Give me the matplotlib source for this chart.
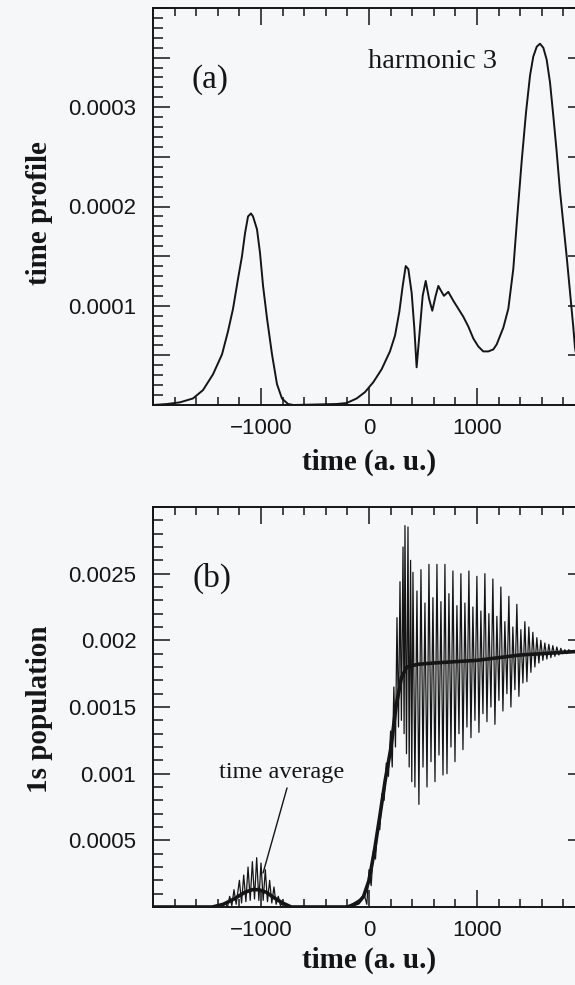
import matplotlib
matplotlib.use("Agg")
import matplotlib.pyplot as plt
from matplotlib.ticker import MultipleLocator, FuncFormatter

# panel (a): harmonic 3 time profile
prof_t = [-2000, -1870, -1750, -1630, -1537, -1444, -1361, -1306, -1259, -1213, -1176, -1148,
          -1120, -1093, -1074, -1037, -1009, -981, -944, -898, -852, -806, -750, -700,
          -299, -207, -114, -37, 40, 117, 194, 241, 281, 312, 340, 364, 395, 420, 441, 466,
          497, 525, 556, 586, 617, 642, 667, 694, 734, 781, 827, 873, 920, 966, 1012, 1058,
          1105, 1151, 1182, 1244, 1290, 1336, 1373, 1414, 1454, 1491, 1521, 1553, 1583, 1614,
          1645, 1676, 1706, 1737, 1768, 1799, 1830, 1861, 1892, 1907, 1950, 2000]
prof_v = [0, 0.000001, 0.0000027, 0.0000066, 0.000015, 0.000031, 0.000051, 0.000074, 0.000097,
          0.000127, 0.00015, 0.000173, 0.00019, 0.000193, 0.00019, 0.000177, 0.000153, 0.00012,
          0.000087, 0.000051, 0.000021, 0.0000066, 0.000001, 0,
          0.000001, 0.000002, 0.0000066, 0.000013, 0.000023, 0.000036, 0.000054, 0.00007,
          0.000094, 0.00012, 0.00014, 0.000137, 0.000113, 0.000077, 0.000038, 0.00007, 0.00011,
          0.000125, 0.000107, 0.000095, 0.00011, 0.00012, 0.000115, 0.00011, 0.000114, 0.000105,
          0.000097, 0.000089, 0.000079, 0.000067, 0.000059, 0.000054, 0.000054, 0.000056,
          0.000061, 0.000078, 0.000097, 0.000137, 0.00019, 0.000246, 0.000295, 0.000332,
          0.000351, 0.000361, 0.000364, 0.00036, 0.000348, 0.000325, 0.000292, 0.000256,
          0.000216, 0.000183, 0.00015, 0.000114, 0.000078, 0.000058, 0.00003, 0.000012]

# panel (b): 1s population, oscillation maxima and minima
peak_t = [-1330, -1290, -1250, -1200, -1160, -1120, -1080, -1040, -1000, -960, -920, -880, -840, -800,
          -40, 0, 40, 80, 120, 160, 200, 230, 259, 287, 315, 333, 361, 385,
          407, 444, 481, 518, 555, 592, 629, 666, 703, 740, 777, 814, 851, 888, 925, 962, 999,
          1036, 1073, 1110, 1147, 1184, 1221, 1258, 1295, 1332, 1369, 1406, 1443, 1480, 1517,
          1554, 1591, 1628, 1665, 1702, 1739, 1776, 1813, 1850, 1900, 2000]
peak_v = [0.00003, 0.00008, 0.00013, 0.0002, 0.00024, 0.0003, 0.00034, 0.00037, 0.00033, 0.00028,
          0.0002, 0.00015, 0.00008, 0.00003,
          0.00008, 0.00028, 0.00042, 0.0006, 0.00085, 0.00108, 0.00132, 0.00165, 0.00217, 0.00244,
          0.0027, 0.00286, 0.00285, 0.0026,
          0.00251, 0.00237, 0.00253, 0.00228, 0.00257, 0.00232, 0.00257, 0.00229, 0.00257, 0.00235,
          0.00252, 0.00226, 0.0025, 0.00228, 0.00252, 0.00225, 0.00248, 0.00222, 0.0025, 0.0022,
          0.00246, 0.00218, 0.0024, 0.00214, 0.00233, 0.0021, 0.00227, 0.00208, 0.00214, 0.0021,
          0.00206, 0.00202, 0.002, 0.00198, 0.00197, 0.00196, 0.00195, 0.00194, 0.00193, 0.00193,
          0.00192, 0.00192]
dip_t = [-2000, -1420, -1310, -1270, -1230, -1180, -1140, -1100, -1060, -1020, -980, -940, -900,
         -860, -820, -760, -200, -20, 20, 60, 100, 140, 180, 215, 245, 273, 300, 325, 347, 372,
         396, 425, 462, 500, 537, 574, 611, 648, 685, 722, 759, 796, 833, 870, 907, 944, 981,
         1018, 1055, 1092, 1129, 1166, 1203, 1240, 1277, 1314, 1351, 1388, 1425, 1462, 1499,
         1536, 1573, 1610, 1647, 1684, 1721, 1758, 1795, 1832, 1869]
dip_v = [0, 0, 0, 0.00001, 0.00002, 0.00003, 0.00004, 0.00005, 0.00006, 0.00005, 0.00005, 0.00004,
         0.00003, 0.00002, 0.00001, 0, 0, 0.00002, 0.00016, 0.00036, 0.00058, 0.0008, 0.00098,
         0.00105, 0.0012, 0.00135, 0.0014, 0.0013, 0.00115, 0.00105, 0.00094, 0.0009, 0.00077,
         0.00105, 0.0009, 0.00109, 0.00094, 0.00114, 0.00099, 0.001, 0.0012, 0.00109, 0.0013,
         0.00118, 0.00135, 0.00127, 0.0014, 0.00131, 0.00145, 0.00139, 0.0015, 0.00137, 0.00155,
         0.00147, 0.0016, 0.0015, 0.00163, 0.00158, 0.00168, 0.00169, 0.00176, 0.0018, 0.00183,
         0.00185, 0.00186, 0.00187, 0.00188, 0.00189, 0.0019, 0.0019, 0.00191]

# time average curve
avg_t = [-2000, -1450, -1350, -1250, -1150, -1080, -1020, -950, -880, -800, -720, -200, -100, -50,
         0, 50, 100, 150, 200, 250, 300, 350, 450, 600, 800, 1000, 1200, 1400, 1600, 1800, 2000]
avg_v = [0, 0, 0.00002, 0.00006, 0.00011, 0.00013, 0.00013, 0.00011, 0.00007, 0.00003, 0, 0,
         0.00003, 0.00008, 0.0002, 0.00042, 0.00068, 0.00095, 0.00118, 0.0015, 0.00172, 0.0018,
         0.00182, 0.00183, 0.00184, 0.00185, 0.00187, 0.00189, 0.0019, 0.00191, 0.00192]

bg = "#f6f7f9"
ink = "#151515"
serif = ["Liberation Serif", "DejaVu Serif"]
sans = ["Liberation Sans", "DejaVu Sans"]

fig = plt.figure(figsize=(5.75, 9.85), dpi=100, facecolor=bg)
ax1 = fig.add_axes([153/575, 1 - 405/985, 432/575, 397/985])
ax2 = fig.add_axes([153/575, 1 - 907/985, 432/575, 400/985])


def xfmt(v, pos):
    if abs(v) > 1500:
        return ""
    return str(int(round(v))).replace("-", "\u2212")


def yfmt_a(v, pos):
    k = round(v / 0.0001, 3)
    if v <= 0 or v > 0.00035 or abs(k - round(k)) > 1e-6:
        return ""
    return f"{v:g}"


def yfmt_b(v, pos):
    if v <= 0 or v > 0.0028:
        return ""
    return f"{v:g}"


for ax in (ax1, ax2):
    ax.set_facecolor(bg)
    ax.set_xlim(-2000, 2000)
    ax.xaxis.set_major_locator(MultipleLocator(1000))
    ax.xaxis.set_minor_locator(MultipleLocator(200))
    ax.xaxis.set_major_formatter(FuncFormatter(xfmt))
    ax.tick_params(which="both", direction="in", top=True, right=True, color=ink, width=1.1)
    ax.tick_params(axis="x", which="major", length=12, pad=9)
    ax.tick_params(axis="x", which="minor", length=6)
    ax.tick_params(axis="y", which="major", length=12, pad=12)
    ax.tick_params(axis="y", which="minor", length=7, right=False)
    for s in ax.spines.values():
        s.set_linewidth(1.4)
        s.set_color(ink)
    ax.set_xlabel("time (a. u.)", family=serif, fontweight="bold", fontsize=21, va="center", color=ink)

ax1.plot(prof_t, prof_v, color=ink, lw=1.4)
ax1.set_ylim(0, 0.0004)
ax1.yaxis.set_major_locator(MultipleLocator(0.00005))
ax1.yaxis.set_minor_locator(MultipleLocator(0.00001))
ax1.yaxis.set_major_formatter(FuncFormatter(yfmt_a))
ax1.set_ylabel("time profile", family=serif, fontweight="bold", fontsize=21, va="center", color=ink)
ax1.xaxis.set_label_coords(0.5, -0.1436)
ax1.yaxis.set_label_coords(-0.262, 0.484)
ax1.text(0.132, 0.819, "(a)", transform=ax1.transAxes, family=serif, fontsize=24,
         ha="center", va="center", color=ink)
ax1.text(0.646, 0.864, "harmonic 3", transform=ax1.transAxes, family=serif, fontsize=20.5,
         ha="center", va="center", color=ink)

# merge maxima and minima into one oscillating trace
pts = sorted(zip(peak_t + dip_t, peak_v + dip_v))
osc_t = [p[0] for p in pts]
osc_v = [p[1] for p in pts]
ax2.plot(osc_t, osc_v, color=ink, lw=0.9)
ax2.plot(avg_t, avg_v, color=ink, lw=2.6)
ax2.set_ylim(0, 0.003)
ax2.yaxis.set_major_locator(MultipleLocator(0.0005))
ax2.yaxis.set_minor_locator(MultipleLocator(0.0001))
ax2.yaxis.set_major_formatter(FuncFormatter(yfmt_b))
ax2.set_ylabel("1s population", family=serif, fontweight="bold", fontsize=21, va="center", color=ink)
ax2.xaxis.set_label_coords(0.5, -0.1325)
ax2.yaxis.set_label_coords(-0.262, 0.495)
ax2.text(0.137, 0.8225, "(b)", transform=ax2.transAxes, family=serif, fontsize=24,
         ha="center", va="center", color=ink)
ax2.text(-806, 0.00101, "time average", family=serif, fontsize=17.5, ha="center", va="center",
         color=ink)
ax2.annotate("", xy=(-981, 0.000255), xytext=(-759, 0.000893),
             arrowprops=dict(arrowstyle="-", color=ink, lw=1.0, shrinkA=0, shrinkB=0))

for ax in (ax1, ax2):
    for lab in ax.get_xticklabels() + ax.get_yticklabels():
        lab.set_family(sans)
        lab.set_fontsize(16)
        lab.set_color(ink)

fig.savefig("out.png", dpi=100, facecolor=bg)
